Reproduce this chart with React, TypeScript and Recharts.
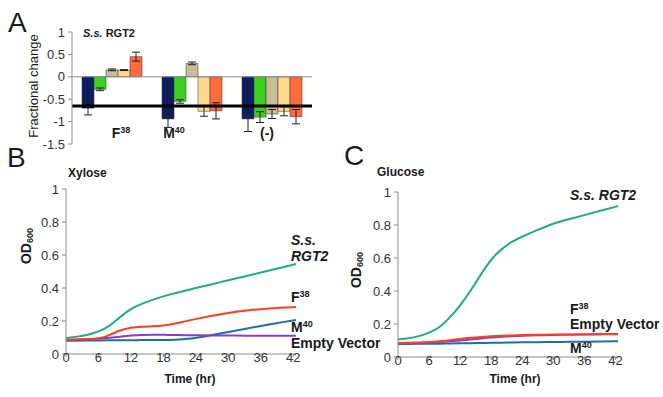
import React from "react";
import {
  BarChart,
  Bar,
  ErrorBar,
  LineChart,
  Line,
  XAxis,
  YAxis,
  ReferenceLine,
} from "recharts";

const FONT = '"Liberation Sans", Arial, sans-serif';

// Panel A: fractional change per construct
const categories = ["F38", "M40", "(-)"];
const navyVals = [-0.7, -0.94, -0.94];
const navyErr = [0.15, 0.19, 0.28];
const greenVals = [-0.28, -0.55, -0.9];
const greenErr = [0.03, 0.04, 0.12];
const tanVals = [0.155, 0.3, -0.83];
const tanErr = [0.02, 0.03, 0.1];
const yellowVals = [0.15, -0.77, -0.77];
const yellowErr = [0.01, 0.11, 0.1];
const orangeVals = [0.45, -0.76, -0.89];
const orangeErr = [0.1, 0.18, 0.16];
const thresholdA = -0.65;
const yTicksA = [-1.5, -1, -0.5, 0, 0.5, 1];

// Panels B and C: growth curves
const hours = [0, 2, 4, 6, 8, 10, 12, 14, 16, 18, 20, 22, 24, 27, 30, 33, 36, 39, 42.5];
const xTicks = [0, 6, 12, 18, 24, 30, 36, 42];
const yTicksOD = [0, 0.2, 0.4, 0.6, 0.8, 1];

const xylRgt2 = [0.097, 0.105, 0.115, 0.135, 0.166, 0.225, 0.275, 0.305, 0.328, 0.35, 0.368, 0.383, 0.4, 0.423, 0.447, 0.47, 0.494, 0.517, 0.545];
const xylF38 = [0.088, 0.089, 0.09, 0.092, 0.113, 0.145, 0.16, 0.166, 0.168, 0.172, 0.182, 0.198, 0.212, 0.232, 0.25, 0.263, 0.272, 0.279, 0.285];
const xylEmpty = [0.085, 0.087, 0.089, 0.092, 0.098, 0.105, 0.112, 0.116, 0.117, 0.116, 0.115, 0.114, 0.113, 0.112, 0.112, 0.111, 0.111, 0.11, 0.11];
const xylM40 = [0.08, 0.081, 0.082, 0.082, 0.083, 0.083, 0.084, 0.084, 0.085, 0.085, 0.086, 0.09, 0.097, 0.115, 0.133, 0.152, 0.17, 0.188, 0.206];

const gluRgt2 = [0.106, 0.112, 0.125, 0.146, 0.177, 0.238, 0.31, 0.4, 0.5, 0.594, 0.655, 0.7, 0.73, 0.77, 0.81, 0.835, 0.86, 0.885, 0.915];
const gluF38 = [0.085, 0.086, 0.088, 0.09, 0.095, 0.102, 0.11, 0.117, 0.122, 0.126, 0.129, 0.131, 0.133, 0.135, 0.136, 0.137, 0.138, 0.139, 0.14];
const gluEmpty = [0.083, 0.084, 0.085, 0.087, 0.09, 0.095, 0.1, 0.106, 0.112, 0.118, 0.122, 0.126, 0.129, 0.132, 0.134, 0.135, 0.136, 0.137, 0.138];
const gluM40 = [0.078, 0.079, 0.08, 0.08, 0.081, 0.082, 0.083, 0.084, 0.085, 0.086, 0.087, 0.088, 0.089, 0.09, 0.091, 0.092, 0.093, 0.094, 0.095];

const barData = categories.map((name, i) => ({
  name,
  navy: navyVals[i],
  navyErr: navyErr[i],
  green: greenVals[i],
  greenErr: greenErr[i],
  tan: tanVals[i],
  tanErr: tanErr[i],
  yellow: yellowVals[i],
  yellowErr: yellowErr[i],
  orange: orangeVals[i],
  orangeErr: orangeErr[i],
}));

const xylData = hours.map((t, i) => ({
  t,
  rgt2: xylRgt2[i],
  f38: xylF38[i],
  empty: xylEmpty[i],
  m40: xylM40[i],
}));

const gluData = hours.map((t, i) => ({
  t,
  rgt2: gluRgt2[i],
  f38: gluF38[i],
  empty: gluEmpty[i],
  m40: gluM40[i],
}));

const TEAL = "#19ad88";
const RED = "#ff3d22";
const PURPLE = "#8a3cc6";
const BLUE = "#1b70a8";
const AXIS = "#8c8c8c";
const INK = "#1a1a1a";

const tickStyle = { fill: "#333", fontSize: 13, fontFamily: FONT };

const labelShift = [9, -18, -5];

function CategoryTick(props: any) {
  const { x, y, payload, index } = props;
  const v: string = payload.value;
  const base = v === "(-)" ? v : v.charAt(0);
  const sup = v === "(-)" ? "" : v.slice(1);
  return (
    <text
      x={x + (labelShift[index] || 0)}
      y={y - 6}
      textAnchor="middle"
      fontFamily={FONT}
      fontWeight="bold"
      fontSize={14}
      fill={INK}
    >
      {base}
      {sup && (
        <tspan fontSize={9} dy={-5}>
          {sup}
        </tspan>
      )}
    </text>
  );
}

function Sup({ x, y, base, sup }: { x: number; y: number; base: string; sup: string }) {
  return (
    <text x={x} y={y} fontFamily={FONT} fontWeight="bold" fontSize={14} fill={INK}>
      {base}
      <tspan fontSize={9} dy={-5}>
        {sup}
      </tspan>
    </text>
  );
}

function OD({ cx, cy }: { cx: number; cy: number }) {
  return (
    <text
      x={cx}
      y={cy}
      transform={`rotate(-90 ${cx} ${cy})`}
      textAnchor="middle"
      fontFamily={FONT}
      fontWeight="bold"
      fontSize={14}
      fill={INK}
      dominantBaseline="middle"
    >
      OD
      <tspan fontSize={9} dy={4}>
        600
      </tspan>
    </text>
  );
}

function GrowthChart({ data, left, width, marginTop, marginRight, yWidth }: any) {
  return (
    <div style={{ position: "absolute", left, top: 170 }}>
      <LineChart
        width={width}
        height={marginTop + 165 + 30}
        data={data}
        margin={{ top: marginTop, right: marginRight, left: 0, bottom: 0 }}
      >
        <XAxis
          dataKey="t"
          type="number"
          domain={[0, 42.5]}
          ticks={xTicks}
          interval={0}
          tick={{ ...tickStyle, dy: -6 }}
          stroke={AXIS}
          tickSize={3}
          tickMargin={2}
          height={30}
        />
        <YAxis
          type="number"
          domain={[0, 1]}
          ticks={yTicksOD}
          interval={0}
          tick={tickStyle}
          stroke={AXIS}
          tickSize={4}
          tickMargin={3}
          width={yWidth}
        />
        <Line type="basis" dataKey="m40" stroke={BLUE} strokeWidth={2} dot={false} isAnimationActive={false} />
        <Line type="basis" dataKey="empty" stroke={PURPLE} strokeWidth={2} dot={false} isAnimationActive={false} />
        <Line type="basis" dataKey="f38" stroke={RED} strokeWidth={2} dot={false} isAnimationActive={false} />
        <Line type="basis" dataKey="rgt2" stroke={TEAL} strokeWidth={2} dot={false} isAnimationActive={false} />
      </LineChart>
    </div>
  );
}

export default function App() {
  const barProps = { stroke: "#333", strokeWidth: 0.5, isAnimationActive: false };
  const errProps = { stroke: "#222", strokeWidth: 1, width: 4 };
  return (
    <div
      style={{
        position: "absolute",
        left: 0,
        top: 0,
        width: 663,
        height: 397,
        background: "#fff",
        fontFamily: FONT,
        overflow: "hidden",
      }}
    >
      <div style={{ position: "absolute", left: 0, top: 0 }}>
        <BarChart
          width={330}
          height={158}
          data={barData}
          margin={{ top: 32, right: 18, left: 0, bottom: 0 }}
          barCategoryGap={10}
          barGap={0}
        >
          <XAxis
            dataKey="name"
            axisLine={false}
            tickLine={false}
            tickSize={0}
            tickMargin={0}
            height={14}
            interval={0}
            tick={<CategoryTick />}
          />
          <YAxis
            type="number"
            domain={[-1.5, 1]}
            ticks={yTicksA}
            interval={0}
            tick={tickStyle}
            stroke={AXIS}
            tickSize={4}
            tickMargin={3}
            width={72}
          />
          <ReferenceLine y={0} stroke={AXIS} strokeWidth={1} />
          <Bar dataKey="navy" fill="#0c1e5e" {...barProps}>
            <ErrorBar dataKey="navyErr" {...errProps} />
          </Bar>
          <Bar dataKey="green" fill="#3dd11f" {...barProps}>
            <ErrorBar dataKey="greenErr" {...errProps} />
          </Bar>
          <Bar dataKey="tan" fill="#c9bd96" {...barProps}>
            <ErrorBar dataKey="tanErr" {...errProps} />
          </Bar>
          <Bar dataKey="yellow" fill="#ffda8c" {...barProps}>
            <ErrorBar dataKey="yellowErr" {...errProps} />
          </Bar>
          <Bar dataKey="orange" fill="#ff6b3d" {...barProps}>
            <ErrorBar dataKey="orangeErr" {...errProps} />
          </Bar>
          <ReferenceLine y={thresholdA} stroke="#000" strokeWidth={3} ifOverflow="extendDomain" />
        </BarChart>
      </div>

      <GrowthChart data={xylData} left={0} width={330} marginTop={19} marginRight={34} yWidth={66} />
      <GrowthChart data={gluData} left={330} width={333} marginTop={22} marginRight={45} yWidth={68} />

      <svg
        width={663}
        height={397}
        style={{ position: "absolute", left: 0, top: 0, pointerEvents: "none" }}
      >
        {/* panel A */}
        <text x={8} y={32} fontFamily={FONT} fontSize={28} fill={INK}>A</text>
        <text x={83} y={37} fontFamily={FONT} fontWeight="bold" fontSize={11} fill={INK}>
          <tspan fontStyle="italic">S.s.</tspan> RGT2
        </text>
        <text
          x={35}
          y={86}
          transform="rotate(-90 35 86)"
          textAnchor="middle"
          dominantBaseline="middle"
          fontFamily={FONT}
          fontSize={13}
          fill={INK}
        >
          Fractional change
        </text>

        {/* panel B */}
        <text x={7} y={167} fontFamily={FONT} fontSize={28} fill={INK}>B</text>
        <text x={68} y={177} fontFamily={FONT} fontWeight="bold" fontSize={12} fill={INK}>Xylose</text>
        <OD cx={27} cy={246} />
        <text x={190} y={383} textAnchor="middle" fontFamily={FONT} fontWeight="bold" fontSize={12} fill={INK}>
          Time (hr)
        </text>
        <text x={291} y={245} fontFamily={FONT} fontWeight="bold" fontStyle="italic" fontSize={14} fill={INK}>S.s.</text>
        <text x={291} y={261} fontFamily={FONT} fontWeight="bold" fontStyle="italic" fontSize={14} fill={INK}>RGT2</text>
        <Sup x={291} y={302} base="F" sup="38" />
        <Sup x={291} y={332} base="M" sup="40" />
        <text x={291} y={348} fontFamily={FONT} fontWeight="bold" fontSize={14} fill={INK}>Empty Vector</text>

        {/* panel C */}
        <text x={344} y={165} fontFamily={FONT} fontSize={28} fill={INK}>C</text>
        <text x={377} y={176} fontFamily={FONT} fontWeight="bold" fontSize={12} fill={INK}>Glucose</text>
        <OD cx={357} cy={270} />
        <text x={515} y={383} textAnchor="middle" fontFamily={FONT} fontWeight="bold" fontSize={12} fill={INK}>
          Time (hr)
        </text>
        <text x={570} y={200} fontFamily={FONT} fontWeight="bold" fontStyle="italic" fontSize={14} fill={INK}>S.s. RGT2</text>
        <Sup x={570} y={314} base="F" sup="38" />
        <text x={570} y={329} fontFamily={FONT} fontWeight="bold" fontSize={14} fill={INK}>Empty Vector</text>
        <Sup x={570} y={353} base="M" sup="40" />
      </svg>
    </div>
  );
}
